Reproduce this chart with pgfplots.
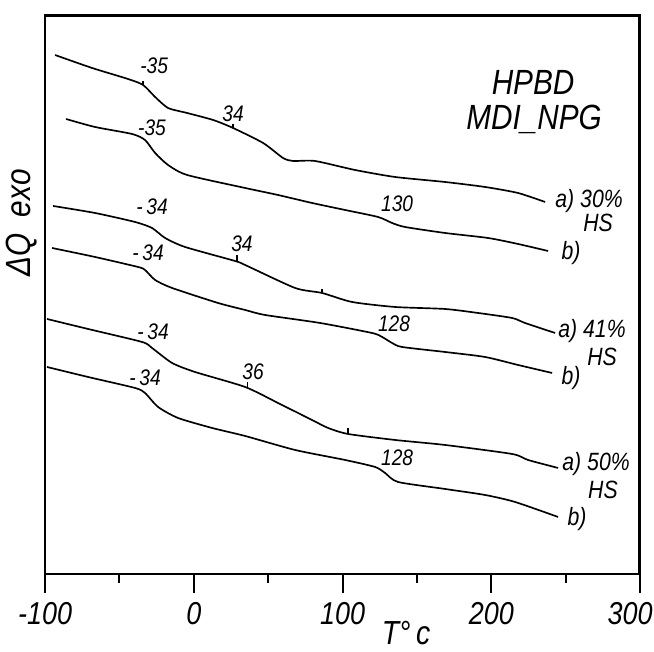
\documentclass[border=0pt]{standalone}
\usepackage{fontspec}
\setmainfont{Liberation Sans}[FakeStretch=0.85]
\usepackage{pgfplots}
\pgfplotsset{compat=1.18}
\begin{document}
\begin{tikzpicture}
\begin{axis}[
  scale only axis,
  width=357pt, height=335.4pt,
  xmin=-100, xmax=300, ymin=-574, ymax=-15,
  clip=false,
  axis line style={line width=1.6pt},
  ytick=\empty,
  xtick={-100,0,100,200,300},
  xticklabels={-100,0,100,200,{\makebox[0pt]{\hspace*{-12pt}300}}},
  extra x ticks={-50,50,150,250},
  extra x tick labels={},
  extra x tick style={major tick length=5.4pt},
  tick align=outside,
  major tick length=11.4pt,
  xtick style={line width=1.2pt, black},
  xtick pos=left,
  xticklabel style={font=\fontsize{19}{22}\selectfont\itshape, yshift=-2pt},
]
% invisible extent of the whole picture (654 x 652 px)
\path (axis cs:-130.3,0) rectangle (axis cs:309.4,-652);
% top and right edges of the frame
\addplot[line width=1.4pt, black] coordinates {(-100,-16) (299.5,-16) (299.5,-574)};
% a) 30% HS
\addplot[smooth, tension=0.4, line width=1pt, black] coordinates {(-93.3,-55) (-68.4,-68) (-44.2,-79) (-34.1,-85) (-26.0,-97) (-17.3,-108) (-4.5,-113) (13.0,-120) (26.4,-128) (46.6,-143) (60.0,-158) (66.7,-161) (81.5,-161) (108.4,-170) (135.3,-177) (168.9,-182) (195.8,-187) (218.0,-193) (236.2,-202)};
% b) 30%
\addplot[smooth, tension=0.4, line width=1pt, black] coordinates {(-85.9,-119) (-66.4,-127) (-41.5,-134) (-32.8,-140) (-26.0,-153) (-17.3,-165) (-4.5,-175) (34.5,-188) (56.6,-195) (79.5,-203) (101.7,-210) (123.9,-217) (133.3,-223) (142.0,-227) (168.9,-233) (197.8,-238) (218.0,-244) (238.2,-251)};
% a) 41% HS
\addplot[smooth, tension=0.4, line width=1pt, black] coordinates {(-94.6,-206) (-66.4,-213) (-39.5,-222) (-28.1,-228) (-19.3,-238) (-5.9,-247) (27.7,-261) (34.5,-265) (68.1,-288) (86.2,-293) (106.4,-302) (135.3,-307) (168.9,-309) (191.1,-313) (214.0,-318) (222.7,-323) (242.9,-333)};
% b) 41%
\addplot[smooth, tension=0.4, line width=1pt, black] coordinates {(-95.3,-248) (-66.4,-257) (-37.5,-267) (-32.8,-270) (-26.0,-280) (-14.6,-288) (16.3,-303) (34.5,-310) (47.9,-315) (84.9,-323) (119.8,-333) (126.6,-337) (133.3,-343) (140.0,-347) (168.9,-352) (195.8,-357) (218.0,-365) (240.9,-373)};
% a) 50% HS
\addplot[smooth, tension=0.4, line width=1pt, black] coordinates {(-98.7,-319) (-71.1,-329) (-34.8,-342) (-28.1,-348) (-14.6,-363) (0.8,-372) (34.5,-387) (56.6,-403) (79.5,-420) (90.3,-428) (103.7,-434) (135.3,-440) (168.9,-445) (214.0,-454) (224.7,-460) (244.9,-468)};
% b) 50%
\addplot[smooth, tension=0.4, line width=1pt, black] coordinates {(-98.7,-367) (-71.1,-377) (-39.5,-388) (-32.8,-393) (-24.0,-407) (-10.6,-418) (12.3,-428) (34.5,-436) (68.1,-450) (101.7,-460) (121.9,-467) (128.6,-473) (137.3,-482) (168.9,-489) (195.8,-495) (216.0,-502) (244.9,-517)};
% small transition ticks on curves
\addplot[line width=0.8pt, black] coordinates {(-34.1,-85) (-34.1,-81)};
\addplot[line width=0.8pt, black] coordinates {(26.4,-128) (26.4,-124)};
\addplot[line width=0.8pt, black] coordinates {(29.1,-262) (29.1,-255)};
\addplot[line width=0.8pt, black] coordinates {(86.2,-293) (86.2,-289)};
\addplot[line width=0.8pt, black] coordinates {(35.9,-387) (35.9,-382)};
\addplot[line width=0.8pt, black] coordinates {(103.7,-434) (103.7,-428)};
% annotations
\begin{scope}[every node/.style={font=\fontsize{13.5}{15}\selectfont\itshape, inner sep=0pt}]
\node at (axis cs:-26.7,-66) {-35};
\node at (axis cs:26.4,-114) {34};
\node at (axis cs:-28.1,-128) {-35};
\node at (axis cs:136.7,-204) {130};
\node at (axis cs:-28.1,-207) {-\,34};
\node at (axis cs:32.4,-244) {34};
\node at (axis cs:-30.8,-253) {-\,34};
\node at (axis cs:134.6,-324) {128};
\node at (axis cs:-27.4,-332) {-\,34};
\node at (axis cs:39.8,-372) {36};
\node at (axis cs:-32.8,-378) {-\,34};
\node at (axis cs:136.7,-458) {128};
\end{scope}
\begin{scope}[every node/.style={font=\fontsize{15}{17}\selectfont\itshape, inner sep=0pt}]
\node[anchor=west] at (axis cs:242.9,-201) {a) 30\%};
\node at (axis cs:271.8,-223) {HS};
\node at (axis cs:253.6,-253) {b)};
\node[anchor=west] at (axis cs:244.9,-331) {a) 41\%};
\node at (axis cs:274.5,-357) {HS};
\node at (axis cs:253.6,-378) {b)};
\node[anchor=west] at (axis cs:247.6,-464) {a) 50\%};
\node at (axis cs:275.1,-490) {HS};
\node at (axis cs:257.7,-519) {b)};
\end{scope}
\node[font=\fontsize{21}{24}\selectfont\itshape, inner sep=0pt] at (axis cs:228.1,-82) {HPBD};
\node[font=\fontsize{21}{24}\selectfont\itshape, inner sep=0pt] at (axis cs:228.8,-119) {MDI\_NPG};
\node[font=\fontsize{21}{24}\selectfont\itshape, inner sep=0pt, rotate=90] at (axis cs:-116.1,-223) {ΔQ\ \ exo};
\node[font=\fontsize{20}{24}\selectfont\itshape, inner sep=0pt] at (axis cs:142.7,-633) {T°\,c};
\end{axis}
\end{tikzpicture}
\end{document}
